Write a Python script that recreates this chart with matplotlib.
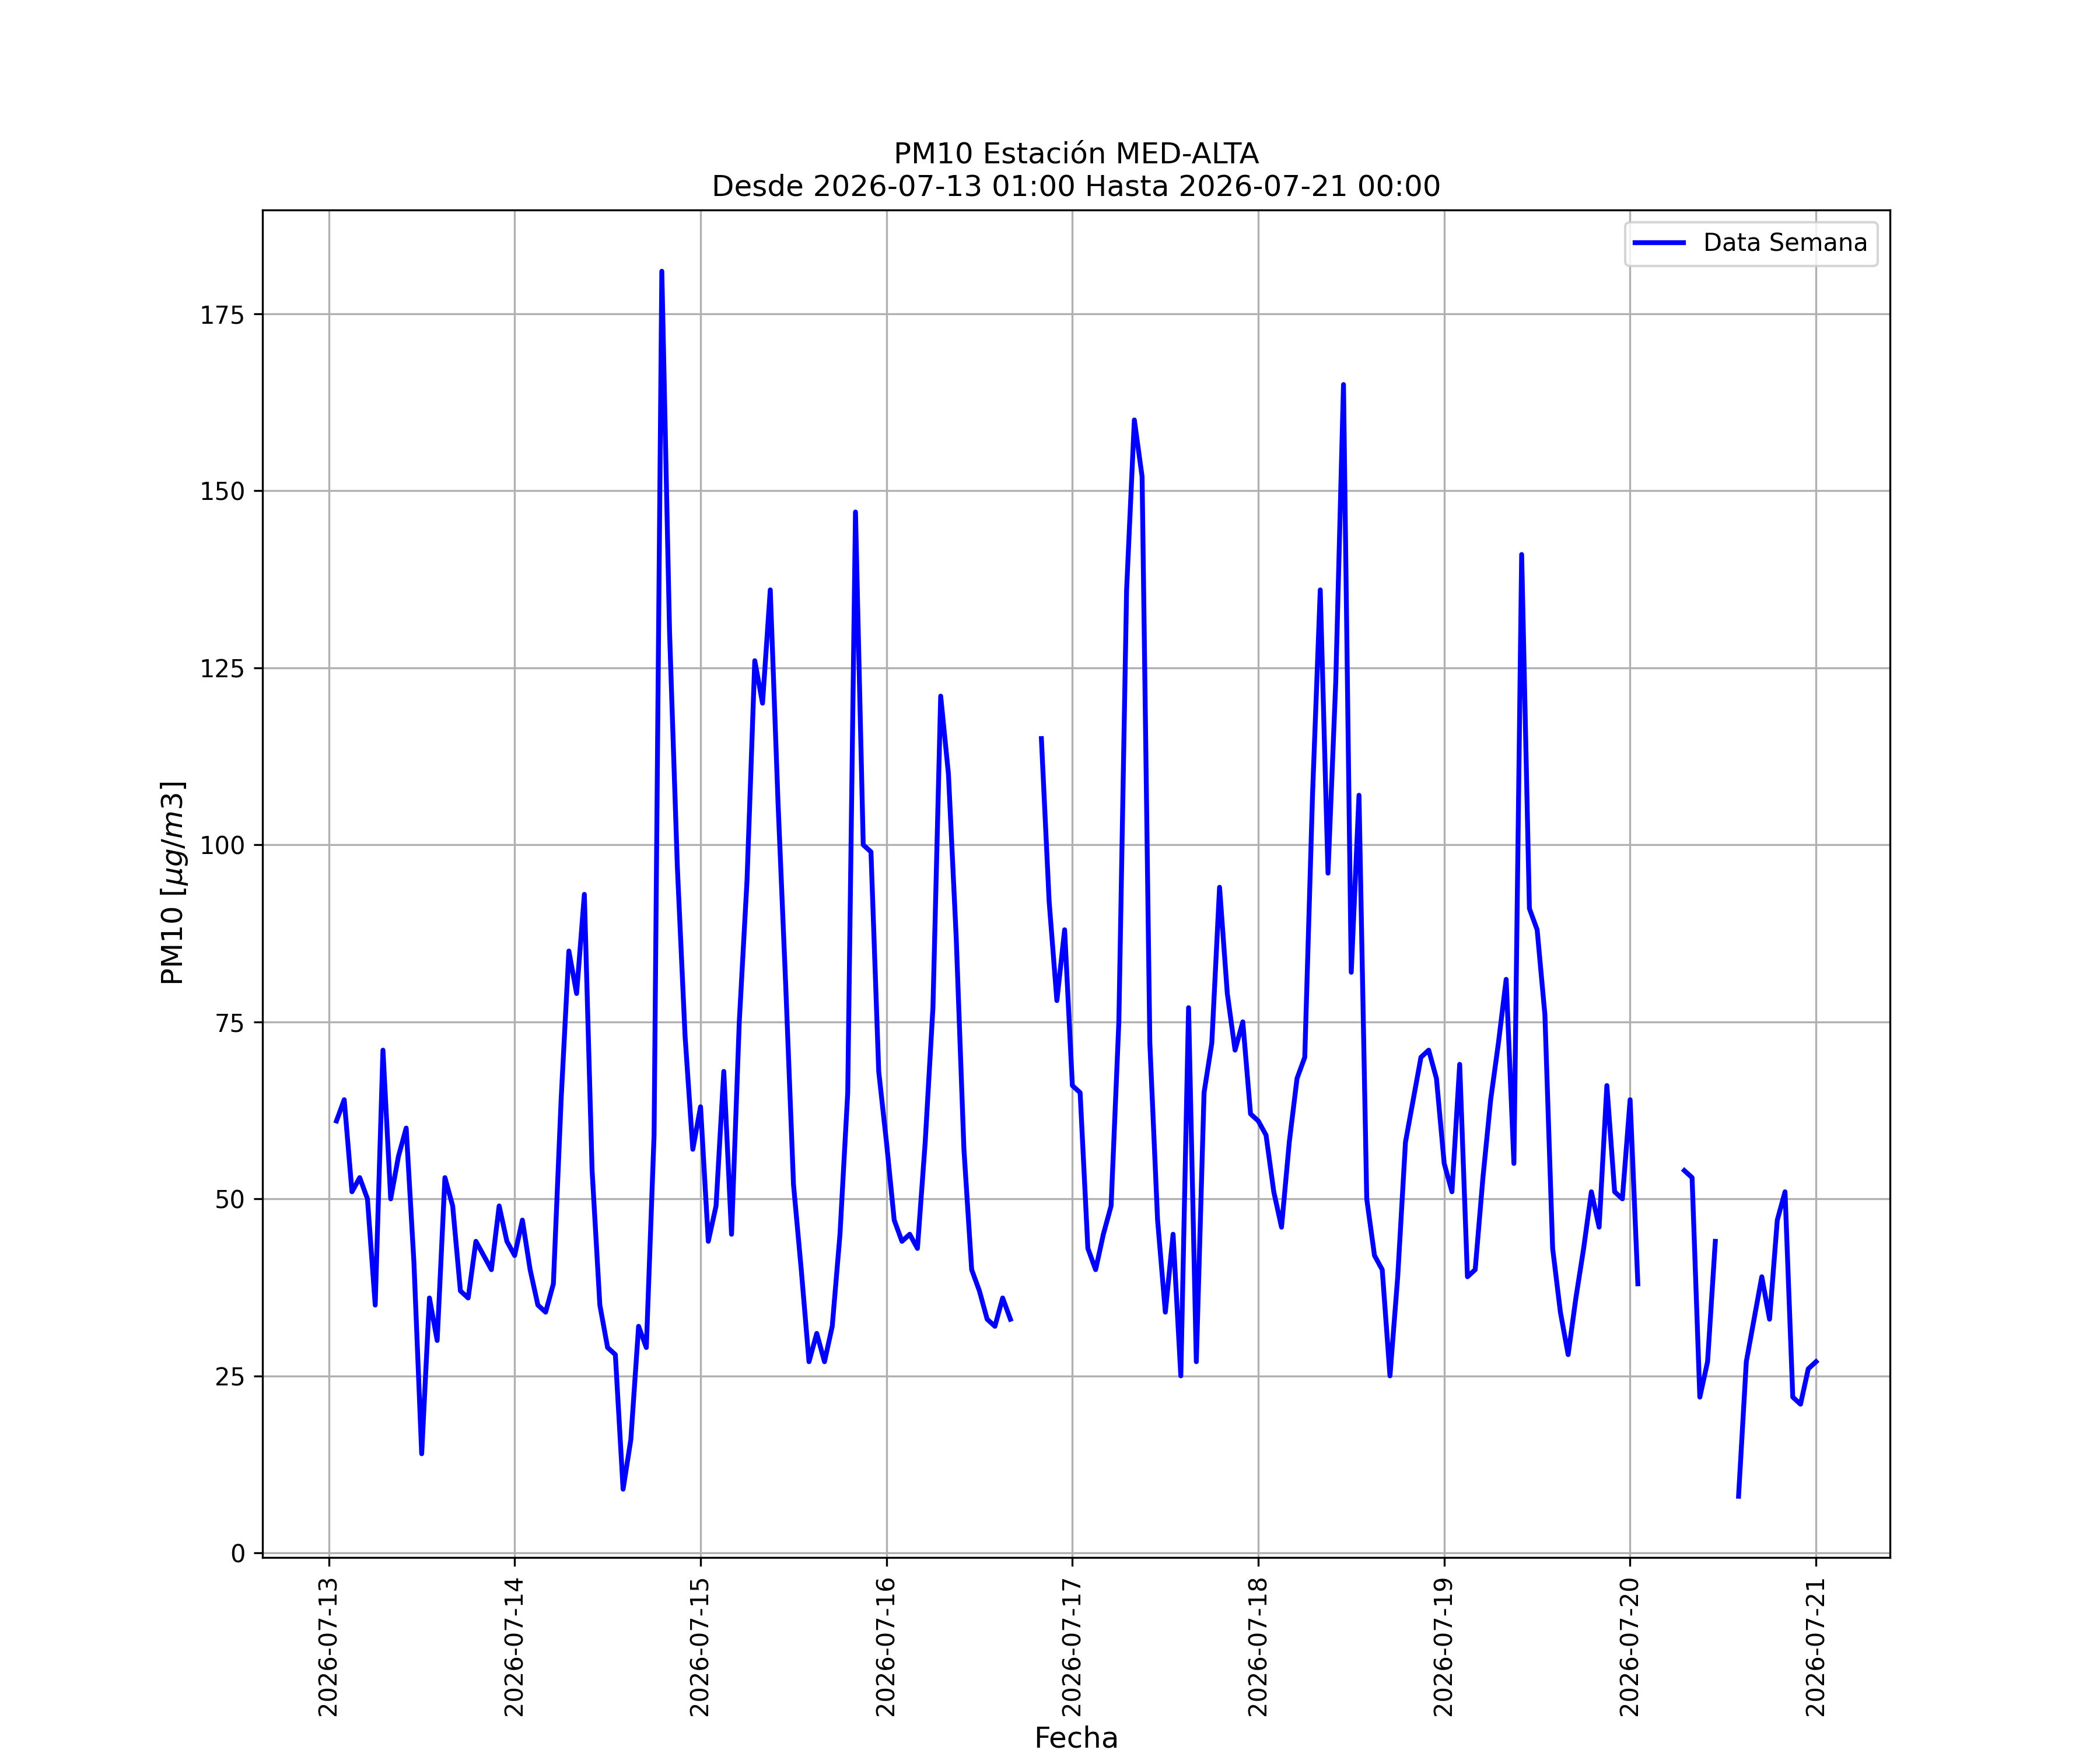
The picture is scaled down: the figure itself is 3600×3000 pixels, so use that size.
#PM10 semanal estacion MED-ALTA
import numpy as np
import pandas as pd
import matplotlib
matplotlib.use("Agg")
import matplotlib.pyplot as plt

nan = np.nan

# valores horarios por dia (ug/m3), el 13 empieza a la 01:00
dia_13 = [61, 64, 51, 53, 50, 35, 71, 50, 56, 60, 41, 14, 36, 30, 53, 49, 37, 36, 44, 42, 40, 49, 44]
dia_14 = [42, 47, 40, 35, 34, 38, 64, 85, 79, 93, 54, 35, 29, 28, 9, 16, 32, 29, 59, 181, 130, 97, 73, 57]
dia_15 = [63, 44, 49, 68, 45, 75, 95, 126, 120, 136, 106, 80, 52, 40, 27, 31, 27, 32, 45, 65, 147, 100, 99, 68]
dia_16 = [58, 47, 44, 45, 43, 58, 77, 121, 110, 87, 57, 40, 37, 33, 32, 36, 33, nan, nan, nan, 115, 92, 78, 88]
dia_17 = [66, 65, 43, 40, 45, 49, 75, 136, 160, 152, 72, 47, 34, 45, 25, 77, 27, 65, 72, 94, 79, 71, 75, 62]
dia_18 = [61, 59, 51, 46, 58, 67, 70, 107, 136, 96, 123, 165, 82, 107, 50, 42, 40, 25, 39, 58, 64, 70, 71, 67]
dia_19 = [55, 51, 69, 39, 40, 53, 64, 72, 81, 55, 141, 91, 88, 76, 43, 34, 28, 36, 43, 51, 46, 66, 51, 50]
dia_20 = [64, 38, nan, nan, nan, nan, nan, 54, 53, 22, 27, 44, nan, nan, 8, 27, 33, 39, 33, 47, 51, 22, 21, 26]
dia_21 = [27]

inicio = "2026-07-13 01:00"
fin = "2026-07-21 00:00"

valores = dia_13 + dia_14 + dia_15 + dia_16 + dia_17 + dia_18 + dia_19 + dia_20 + dia_21
fechas = pd.date_range(inicio, fin, freq="h")

df = pd.DataFrame({"fecha": fechas, "pm10": valores})

fig, ax = plt.subplots(figsize=(12, 10))
ax.plot(df["fecha"], df["pm10"], color="blue", linewidth=2, label="Data Semana")

ax.set_title("PM10 Estación MED-ALTA\nDesde " + inicio + " Hasta " + fin)
ax.set_xlabel("Fecha", fontsize=12)
ax.set_ylabel("PM10 [$\\mu g/m3$]", fontsize=12)
ax.grid(True)
ax.legend(loc="upper right")
plt.xticks(rotation=90)

plt.savefig("out.png", dpi=300)
